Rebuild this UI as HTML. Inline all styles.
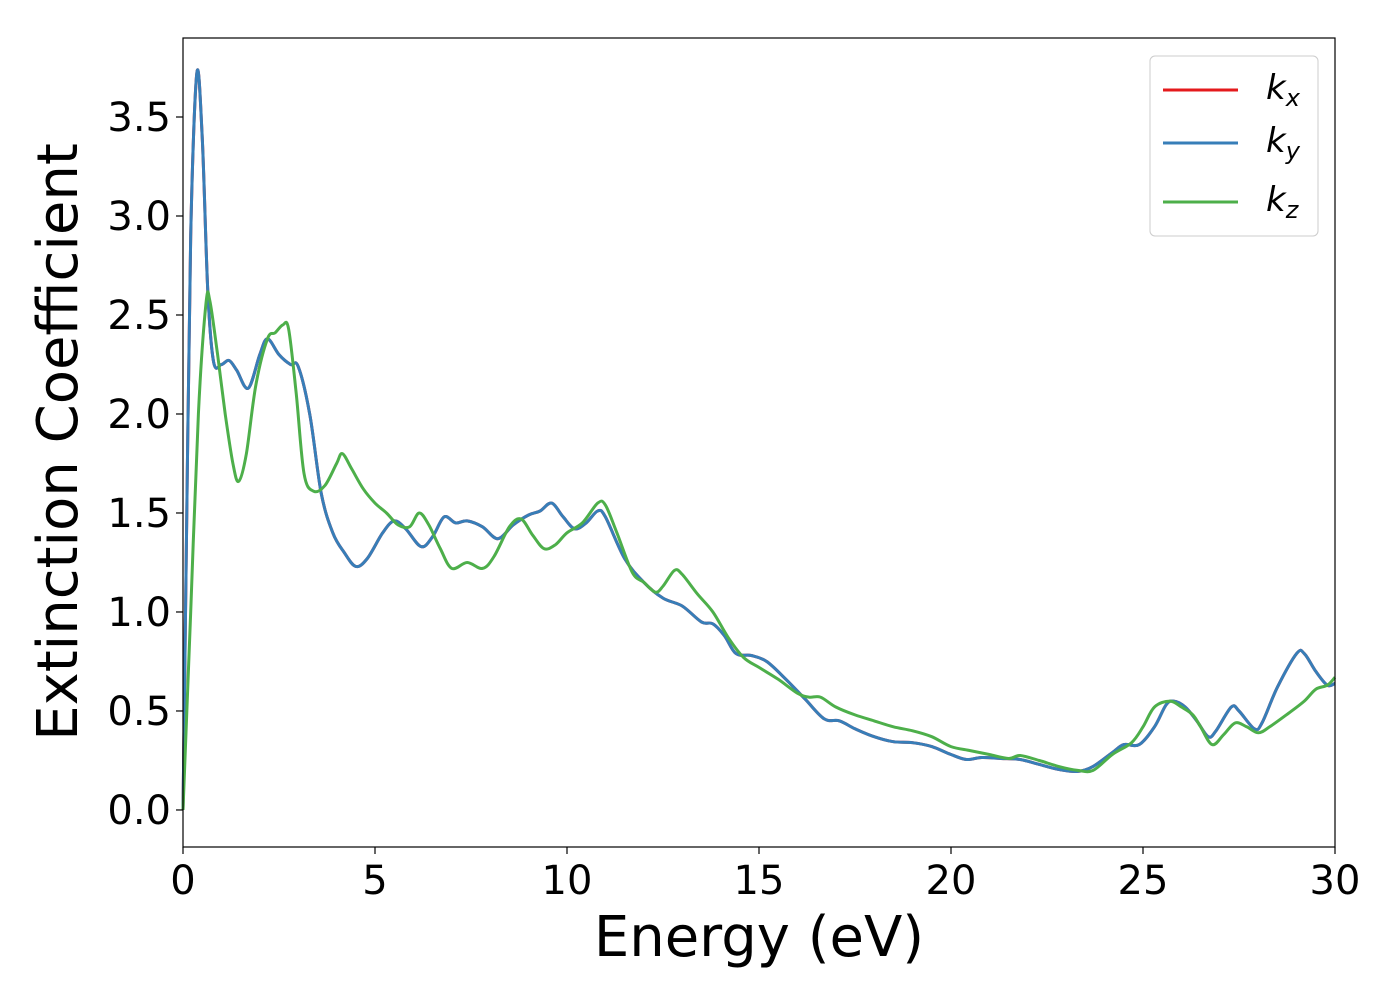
<!DOCTYPE html>
<html><head><meta charset="utf-8"><style>
html,body{margin:0;padding:0;background:#fff;}
svg text{font-family:"DejaVu Sans","Liberation Sans",sans-serif;fill:#000;}
</style></head><body>
<svg id="chart" width="1400" height="1000" xmlns="http://www.w3.org/2000/svg">
<rect x="0" y="0" width="1400" height="1000" fill="#fff"/>
<g id="plot"></g>
<rect x="183" y="38" width="1152" height="809" fill="none" stroke="#000" stroke-width="1.2"/>
<g id="axes"></g>
<text x="759" y="956" font-size="56" text-anchor="middle">Energy (eV)</text>
<text transform="translate(77,442) rotate(-90)" font-size="56" text-anchor="middle">Extinction Coefficient</text>
<g>
<rect x="1150" y="56" width="168" height="180" rx="5" fill="#fff" stroke="#ccc" stroke-width="1"/>
<line x1="1163" y1="90" x2="1238" y2="90" stroke="#e41a1c" stroke-width="3"/>
<text x="1266" y="99" font-size="34" font-style="italic">k<tspan font-size="24" dy="7">x</tspan></text>
<line x1="1163" y1="143" x2="1238" y2="143" stroke="#377eb8" stroke-width="3"/>
<text x="1266" y="152" font-size="34" font-style="italic">k<tspan font-size="24" dy="7">y</tspan></text>
<line x1="1163" y1="202" x2="1238" y2="202" stroke="#4daf4a" stroke-width="3"/>
<text x="1266" y="211" font-size="34" font-style="italic">k<tspan font-size="24" dy="7">z</tspan></text>
</g>
</svg>
<script>
const xTicks = [0, 5, 10, 15, 20, 25, 30];
const yTicks = [0.0, 0.5, 1.0, 1.5, 2.0, 2.5, 3.0, 3.5];
const energyXY = [0,0.1,0.2,0.36,0.5,0.65,0.8,1.0,1.2,1.4,1.7,2.0,2.2,2.5,2.8,3.0,3.3,3.6,3.9,4.2,4.5,4.8,5.2,5.5,5.8,6.2,6.5,6.8,7.1,7.4,7.8,8.2,8.6,9.0,9.3,9.6,9.9,10.2,10.5,10.8,11.0,11.5,12.0,12.5,13.0,13.5,13.8,14.1,14.4,14.8,15.2,15.7,16.2,16.7,17.1,17.5,18.0,18.5,19.0,19.5,20.0,20.4,20.8,21.3,21.8,22.3,22.8,23.3,23.7,24.2,24.5,24.9,25.3,25.6,25.8,26.1,26.4,26.7,26.9,27.3,27.5,27.9,28.1,28.5,29.0,29.2,29.5,29.8,30];
const kxValues = [0,1.5,2.9,3.72,3.4,2.6,2.26,2.25,2.27,2.22,2.13,2.3,2.38,2.3,2.25,2.24,2.0,1.6,1.4,1.3,1.23,1.27,1.40,1.46,1.42,1.33,1.38,1.48,1.45,1.46,1.43,1.37,1.44,1.49,1.51,1.55,1.48,1.42,1.45,1.51,1.48,1.27,1.15,1.07,1.03,0.95,0.94,0.88,0.79,0.78,0.75,0.66,0.56,0.46,0.45,0.41,0.37,0.345,0.34,0.32,0.28,0.255,0.265,0.26,0.255,0.23,0.205,0.195,0.22,0.29,0.33,0.33,0.42,0.53,0.55,0.52,0.45,0.37,0.40,0.52,0.50,0.41,0.44,0.62,0.79,0.79,0.70,0.63,0.64];
const kyValues = kxValues.slice();
const energyZ = [0,0.2,0.4,0.6,0.7,0.9,1.1,1.3,1.45,1.65,1.9,2.2,2.4,2.6,2.75,2.95,3.15,3.4,3.7,4.0,4.15,4.4,4.7,5.0,5.3,5.6,5.9,6.15,6.4,6.7,7.0,7.4,7.8,8.1,8.5,8.8,9.1,9.4,9.7,10.0,10.4,10.8,11.0,11.3,11.7,12.0,12.3,12.5,12.8,13.0,13.4,13.8,14.2,14.6,15.0,15.5,16.0,16.3,16.6,17.0,17.5,18.0,18.5,19.0,19.5,20.0,20.5,21.0,21.5,21.8,22.3,22.8,23.3,23.7,24.2,24.7,25.0,25.3,25.7,26.0,26.3,26.5,26.8,27.1,27.4,27.7,28.0,28.3,28.8,29.2,29.5,29.8,30];
const kzValues = [0,1.0,2.0,2.56,2.57,2.3,2.0,1.75,1.66,1.8,2.15,2.38,2.41,2.45,2.43,2.1,1.7,1.61,1.64,1.75,1.8,1.72,1.62,1.55,1.5,1.44,1.43,1.5,1.44,1.32,1.22,1.25,1.22,1.28,1.43,1.47,1.39,1.32,1.34,1.40,1.45,1.55,1.54,1.40,1.2,1.15,1.10,1.13,1.21,1.19,1.09,1.0,0.87,0.77,0.72,0.66,0.59,0.57,0.57,0.52,0.48,0.45,0.42,0.40,0.37,0.32,0.30,0.28,0.26,0.275,0.25,0.22,0.20,0.20,0.28,0.34,0.42,0.52,0.55,0.52,0.48,0.42,0.33,0.38,0.44,0.42,0.39,0.42,0.49,0.55,0.61,0.63,0.67];

const X0=183,X1=1335,XMIN=0,XMAX=30;
const Y0=847,Y1=38,YMIN=-0.187,YMAX=3.899;
function sx(v){return X0+(v-XMIN)/(XMAX-XMIN)*(X1-X0);}
function sy(v){return Y0-(v-YMIN)/(YMAX-YMIN)*(Y0-Y1);}
const NS="http://www.w3.org/2000/svg";
function smoothPath(xs,ys){
  const p=xs.map((x,i)=>[sx(x),sy(ys[i])]);
  let d="M"+p[0][0].toFixed(1)+","+p[0][1].toFixed(1);
  for(let i=0;i<p.length-1;i++){
    const a=p[Math.max(0,i-1)],b=p[i],c=p[i+1],e=p[Math.min(p.length-1,i+2)];
    const c1=[b[0]+(c[0]-a[0])/6,b[1]+(c[1]-a[1])/6];
    const c2=[c[0]-(e[0]-b[0])/6,c[1]-(e[1]-b[1])/6];
    d+=" C"+c1[0].toFixed(1)+","+c1[1].toFixed(1)+" "+c2[0].toFixed(1)+","+c2[1].toFixed(1)+" "+c[0].toFixed(1)+","+c[1].toFixed(1);
  }
  return d;
}
const plot=document.getElementById('plot');
function addLine(xs,ys,color,name){
  const el=document.createElementNS(NS,'path');
  el.setAttribute('d',smoothPath(xs,ys));
  el.setAttribute('fill','none');
  el.setAttribute('stroke',color);
  el.setAttribute('stroke-width','3');
  el.setAttribute('stroke-linejoin','round');
  
  
  plot.appendChild(el);
}
addLine(energyXY,kxValues,'#e41a1c','series-kx');
addLine(energyXY,kyValues,'#377eb8','series-ky');
addLine(energyZ,kzValues,'#4daf4a','series-kz');

const axes=document.getElementById('axes');
xTicks.forEach(v=>{
  const t=document.createElementNS(NS,'line');
  t.setAttribute('x1',sx(v));t.setAttribute('x2',sx(v));
  t.setAttribute('y1',Y0);t.setAttribute('y2',Y0+7);
  t.setAttribute('stroke','#000');t.setAttribute('stroke-width','1.2');
  
  
  axes.appendChild(t);
  const l=document.createElementNS(NS,'text');
  l.setAttribute('x',sx(v));l.setAttribute('y',894);
  l.setAttribute('font-size','40');l.setAttribute('text-anchor','middle');
  l.textContent=String(v);
  
  
  axes.appendChild(l);
});
yTicks.forEach(v=>{
  const t=document.createElementNS(NS,'line');
  t.setAttribute('x1',X0-7);t.setAttribute('x2',X0);
  t.setAttribute('y1',sy(v));t.setAttribute('y2',sy(v));
  t.setAttribute('stroke','#000');t.setAttribute('stroke-width','1.2');
  
  
  axes.appendChild(t);
  const l=document.createElementNS(NS,'text');
  l.setAttribute('x',171);l.setAttribute('y',sy(v)+14);
  l.setAttribute('font-size','40');l.setAttribute('text-anchor','end');
  l.textContent=v.toFixed(1);
  
  
  axes.appendChild(l);
});
</script>
</body></html>
